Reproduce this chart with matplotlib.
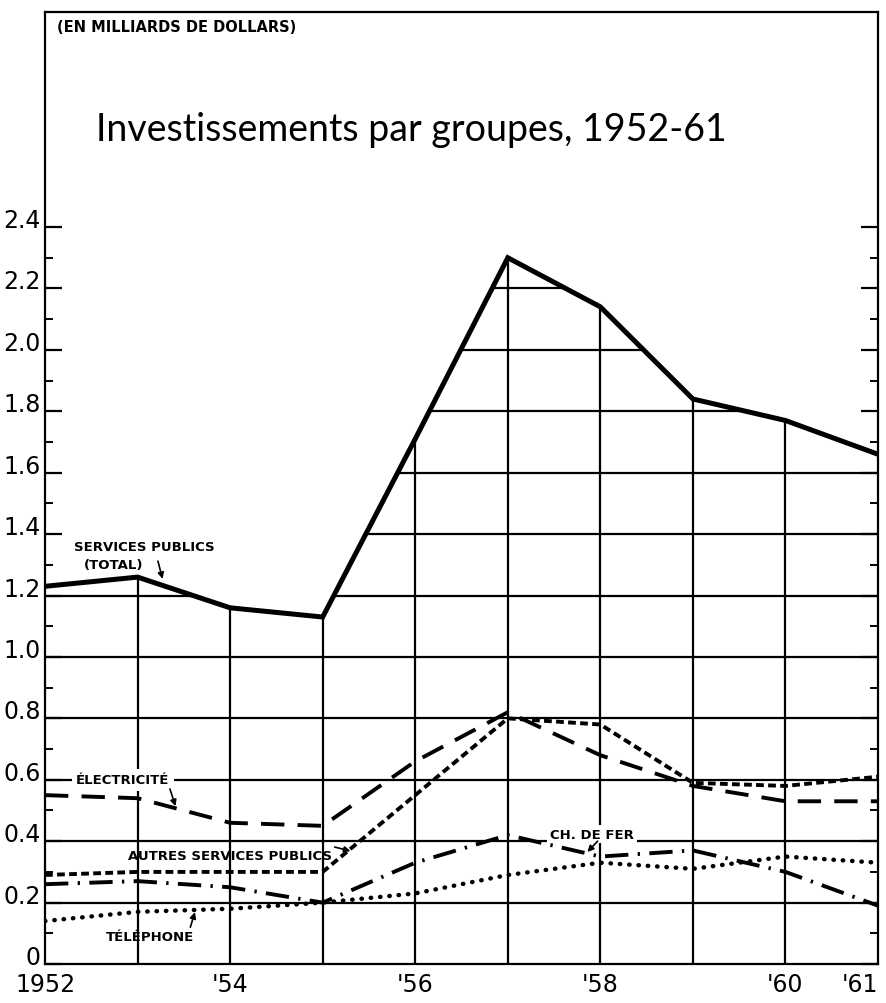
import matplotlib
matplotlib.use("Agg")
import matplotlib.pyplot as plt
from matplotlib.patches import Polygon
from matplotlib.ticker import FixedLocator

# Data (billions of dollars)
years = [1952, 1953, 1954, 1955, 1956, 1957, 1958, 1959, 1960, 1961]
total = [1.23, 1.26, 1.16, 1.13, 1.71, 2.30, 2.14, 1.84, 1.77, 1.66]
electricite = [0.55, 0.54, 0.46, 0.45, 0.66, 0.82, 0.68, 0.58, 0.53, 0.53]
autres = [0.29, 0.30, 0.30, 0.30, 0.55, 0.80, 0.78, 0.59, 0.58, 0.61]
ch_de_fer = [0.26, 0.27, 0.25, 0.20, 0.33, 0.42, 0.35, 0.37, 0.30, 0.19]
telephone = [0.14, 0.17, 0.18, 0.20, 0.23, 0.29, 0.33, 0.31, 0.35, 0.33]
xtick_years = [1952, 1954, 1956, 1958, 1960, 1961]
xtick_labels = ["1952", "'54", "'56", "'58", "'60", "'61"]
ytick_values = [0, 0.2, 0.4, 0.6, 0.8, 1.0, 1.2, 1.4, 1.6, 1.8, 2.0, 2.2, 2.4]
ytick_labels = ["0", "0.2", "0.4", "0.6", "0.8", "1.0", "1.2", "1.4", "1.6",
                "1.8", "2.0", "2.2", "2.4"]

fig = plt.figure(figsize=(8.86, 10.04), dpi=100)
ax = fig.add_axes([0.0508, 0.0388, 0.9402, 0.9482])
ax.set_xlim(1952, 1961)
ax.set_ylim(0, 3.10)

# grid only under the total line
area = Polygon([(years[0], 0)] + list(zip(years, total)) + [(years[-1], 0)],
               closed=True, facecolor="none", edgecolor="none",
               transform=ax.transData)
ax.add_patch(area)
for yv in ytick_values[1:-1]:
    ln = ax.axhline(yv, color="black", lw=1.6, zorder=1)
    ln.set_clip_path(area)
for xv in years[1:-1]:
    ln = ax.axvline(xv, color="black", lw=1.6, zorder=1)
    ln.set_clip_path(area)

# series
ax.plot(years, total, color="black", lw=3.6, solid_joinstyle="miter", zorder=3)
ax.plot(years, electricite, color="black", lw=2.8, dashes=(6.0, 3.4), zorder=3)
ax.plot(years, autres, color="black", lw=2.8, dashes=(2.0, 1.1), zorder=3)
ax.plot(years, ch_de_fer, color="black", lw=2.8, dashes=(6.0, 2.4, 0.6, 2.4), zorder=3)
ax.plot(years, telephone, color="black", lw=3.2, dashes=(0.1, 2.0),
        dash_capstyle="round", zorder=3)

# axes styling
for s in ax.spines.values():
    s.set_linewidth(1.6)
ax.yaxis.set_major_locator(FixedLocator(ytick_values))
ax.yaxis.set_minor_locator(FixedLocator([v + 0.1 for v in ytick_values[:-1]]))
ax.set_yticklabels(ytick_labels)
ax.tick_params(axis="y", which="major", direction="in", length=12, width=1.6,
               left=True, right=True, labelsize=17, pad=3)
ax.tick_params(axis="y", which="minor", direction="in", length=6, width=1.4,
               left=True, right=True)
for t in ax.get_yticklabels():
    t.set_va("baseline")
ax.set_xticks(xtick_years)
ax.set_xticklabels(xtick_labels)
ax.tick_params(axis="x", length=0, labelsize=17, pad=6)
ax.get_xticklabels()[-1].set_ha("right")

# texts
lbl = dict(fontsize=9.5, fontweight="bold", color="black", zorder=5)
arrow = dict(arrowstyle="-|>", color="black", lw=1.2, mutation_scale=9,
             shrinkA=0, shrinkB=0)

ax.text(0.0144, 0.985, "(EN MILLIARDS DE DOLLARS)", transform=ax.transAxes,
        ha="left", va="center", fontsize=10.5, fontweight="bold")
ax.text(0.44, 0.877, "Investissements par groupes, 1952-61", transform=ax.transAxes,
        ha="center", va="center", fontsize=27, family="Lato", color="black")

ax.text(1953.07, 1.36, "SERVICES PUBLICS", ha="center", va="center", **lbl)
ax.text(1952.74, 1.30, "(TOTAL)", ha="center", va="center", **lbl)
ax.annotate("", xy=(1953.27, 1.254), xytext=(1953.22, 1.312), arrowprops=arrow, zorder=5)

ax.text(1952.84, 0.60, "ÉLECTRICITÉ", ha="center", va="center",
        bbox=dict(fc="white", ec="none", pad=3), **lbl)
ax.annotate("", xy=(1953.41, 0.514), xytext=(1953.35, 0.57), arrowprops=arrow, zorder=5)

ax.text(1954.0, 0.352, "AUTRES SERVICES PUBLICS", ha="center", va="center", **lbl)
ax.annotate("", xy=(1955.30, 0.368), xytext=(1955.13, 0.381), arrowprops=arrow, zorder=5)

ax.text(1957.91, 0.423, "CH. DE FER", ha="center", va="center",
        bbox=dict(fc="white", ec="none", pad=2), **lbl)
ax.annotate("", xy=(1957.86, 0.365), xytext=(1957.97, 0.40), arrowprops=arrow, zorder=5)

ax.text(1953.13, 0.091, "TÉLÉPHONE", ha="center", va="center", **lbl)
ax.annotate("", xy=(1953.62, 0.169), xytext=(1953.57, 0.12), arrowprops=arrow, zorder=5)

plt.savefig("out.png", dpi=100)
plt.close()
